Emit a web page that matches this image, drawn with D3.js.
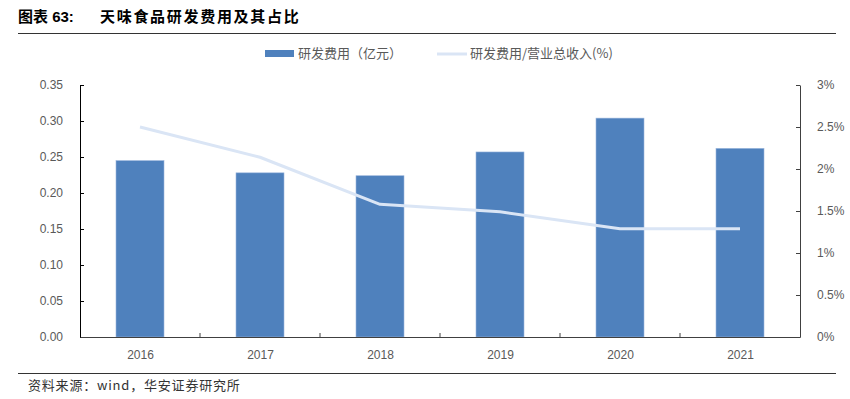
<!DOCTYPE html>
<html>
<head>
<meta charset="utf-8">
<script src="https://cdn.jsdelivr.net/npm/d3@7"></script>
<style>
  body { margin: 0; background: #fff; }
  svg { display: block; }
</style>
</head>
<body>
<svg id="chart"></svg>
<script>
const years = ["2016", "2017", "2018", "2019", "2020", "2021"];
const rdCost = [0.245, 0.228, 0.224, 0.257, 0.304, 0.262];
const rdRatio = [2.50, 2.14, 1.58, 1.49, 1.29, 1.29];
const leftTicks = [0, 0.05, 0.10, 0.15, 0.20, 0.25, 0.30, 0.35];
const rightTicks = [0, 0.5, 1, 1.5, 2, 2.5, 3];

const width = 850;
const height = 399;
const margin = { top: 85, right: 50, bottom: 62, left: 80 };
const font = "'Liberation Sans', 'Noto Sans CJK SC', sans-serif";
const cjk = "'Noto Sans CJK SC', sans-serif";

const svg = d3.select("#chart")
    .attr("width", width)
    .attr("height", height);

// title
svg.append("text")
    .attr("x", 18)
    .attr("y", 22)
    .attr("font-family", "'Liberation Sans', 'Noto Sans CJK SC', sans-serif")
    .attr("font-size", 15)
    .attr("font-weight", "bold")
    .attr("fill", "#000")
    .text("图表 63:");

svg.append("text")
    .attr("x", 100)
    .attr("y", 22)
    .attr("font-family", cjk)
    .attr("font-size", 15)
    .attr("font-weight", "bold")
    .attr("letter-spacing", 1.7)
    .attr("fill", "#000")
    .text("天味食品研发费用及其占比");

svg.append("line")
    .attr("x1", 18).attr("x2", 836)
    .attr("y1", 33.5).attr("y2", 33.5)
    .attr("stroke", "#333").attr("stroke-width", 1);

const xCenter = d3.scalePoint()
    .domain(years)
    .range([margin.left, width - margin.right])
    .padding(0.5);

const y = d3.scaleLinear()
    .domain([0, 0.35])
    .range([height - margin.bottom, margin.top]);

const y2 = d3.scaleLinear()
    .domain([0, 3])
    .range([height - margin.bottom, margin.top]);

// bars
svg.selectAll("rect.bar")
    .data(years)
    .enter().append("rect")
    .attr("class", "bar")
    .attr("x", d => xCenter(d) - 24)
    .attr("width", 48)
    .attr("y", (d, i) => y(rdCost[i]))
    .attr("height", (d, i) => y(0) - y(rdCost[i]))
    .attr("fill", "#4f81bd")
    .attr("stroke", "#9cb6dc")
    .attr("stroke-width", 0.6);

// line
const line = d3.line()
    .x((d, i) => xCenter(years[i]))
    .y(d => y2(d));

svg.append("path")
    .datum(rdRatio)
    .attr("d", line)
    .attr("fill", "none")
    .attr("stroke", "#dae5f5")
    .attr("stroke-width", 3)
    .attr("stroke-linejoin", "round");

// left axis
const leftAxis = svg.append("g")
    .attr("transform", `translate(${margin.left}, 0)`)
    .call(d3.axisLeft(y).tickValues(leftTicks).tickFormat(d3.format(".2f")).tickSizeInner(-4).tickSizeOuter(0).tickPadding(17));
leftAxis.select(".domain").attr("stroke", "#000");
leftAxis.selectAll(".tick line").attr("stroke", "#000");
leftAxis.selectAll("text")
    .attr("font-family", font)
    .attr("font-size", 12)
    .attr("fill", "#595959");

// right axis
const rightAxis = svg.append("g")
    .attr("transform", `translate(${width - margin.right}, 0)`)
    .call(d3.axisRight(y2).tickValues(rightTicks).tickFormat(d => d + "%").tickSizeInner(-4).tickSizeOuter(0).tickPadding(17));
rightAxis.select(".domain").attr("stroke", "#404040");
rightAxis.selectAll(".tick line").attr("stroke", "#404040");
rightAxis.selectAll("text")
    .attr("font-family", font)
    .attr("font-size", 12)
    .attr("fill", "#595959");

// bottom axis
const bottomAxis = svg.append("g")
    .attr("transform", `translate(0, ${height - margin.bottom})`)
    .call(d3.axisBottom(xCenter).tickSize(0).tickPadding(13));
bottomAxis.select(".domain").attr("stroke", "#404040");
bottomAxis.selectAll("text")
    .attr("font-family", font)
    .attr("font-size", 12)
    .attr("fill", "#595959");

// category separators
const step = xCenter.step();
svg.selectAll("line.sep")
    .data(years.slice(1))
    .enter().append("line")
    .attr("class", "sep")
    .attr("x1", d => xCenter(d) - step / 2)
    .attr("x2", d => xCenter(d) - step / 2)
    .attr("y1", y(0))
    .attr("y2", y(0) - 4)
    .attr("stroke", "#404040");

// legend
const legend = svg.append("g").attr("font-family", cjk).attr("font-size", 13).attr("fill", "#595959");
legend.append("rect")
    .attr("x", 265).attr("y", 50)
    .attr("width", 29).attr("height", 7)
    .attr("fill", "#4f81bd");
legend.append("text")
    .attr("x", 298).attr("y", 58)
    .attr("fill", "#595959")
    .text("研发费用（亿元）");
legend.append("line")
    .attr("x1", 437).attr("x2", 467)
    .attr("y1", 54).attr("y2", 54)
    .attr("stroke", "#dae5f5").attr("stroke-width", 3);
legend.append("text")
    .attr("x", 470).attr("y", 58)
    .attr("fill", "#595959")
    .text("研发费用/营业总收入(%)");

// footer
svg.append("line")
    .attr("x1", 18).attr("x2", 836)
    .attr("y1", 373.5).attr("y2", 373.5)
    .attr("stroke", "#333").attr("stroke-width", 1);

svg.append("text")
    .attr("x", 28)
    .attr("y", 390)
    .attr("font-family", cjk)
    .attr("font-size", 13)
    .attr("letter-spacing", 0.8)
    .attr("fill", "#333")
    .text("资料来源：wind，华安证券研究所");
</script>
</body>
</html>
